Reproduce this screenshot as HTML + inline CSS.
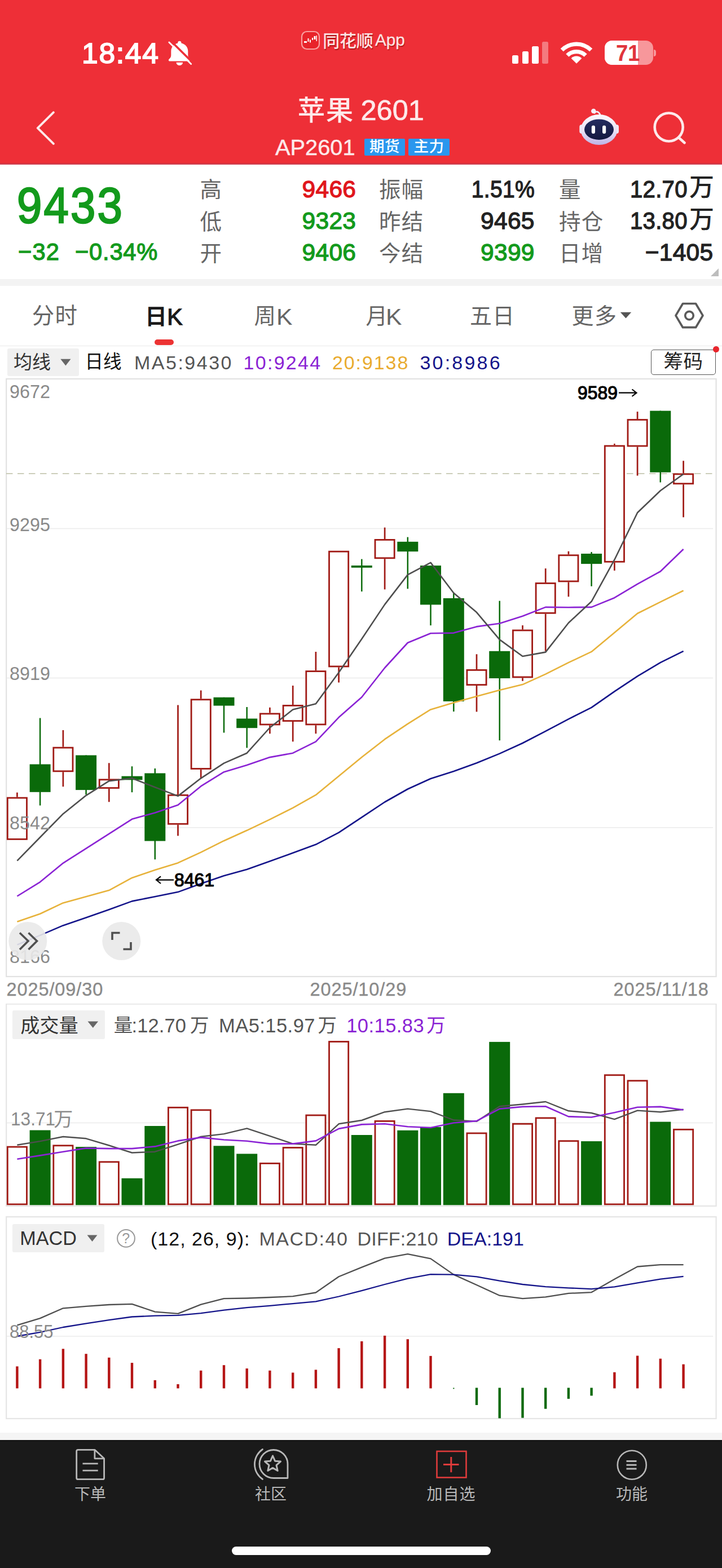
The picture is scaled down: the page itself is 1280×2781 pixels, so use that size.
<!DOCTYPE html>
<html lang="zh"><head><meta charset="utf-8"><title>苹果2601</title>
<style>
html,body{margin:0;padding:0;background:#fff;}
body{width:1280px;height:2781px;position:relative;overflow:hidden;font-family:"Liberation Sans",sans-serif;}
.c,.t,.r,.s{position:absolute;}
.c{line-height:0;}
.c svg{display:block;position:absolute;left:0;top:0;overflow:visible;}
.t{white-space:nowrap;line-height:1;}
.k{font-family:"Liberation Sans","Noto Sans CJK SC",sans-serif;font-weight:400;}
</style></head>
<body>
<div class="r" style="left:0px;top:0px;width:1280px;height:291.8px;background:#d04353;"></div>
<div class="r" style="left:0px;top:0px;width:1280px;height:290.3px;background:#d72c36;"></div>
<div class="r" style="left:0px;top:0px;width:1280px;height:288.8px;background:#ee2f37;"></div>
<div class="t" style="top:69.7518px;font-size:50.5px;color:#fff;font-weight:400;letter-spacing:1.7px;-webkit-text-stroke:1.8px #fff;left:144.5px;transform:scaleX(1.02);transform-origin:0 50%;">18:44</div>
<svg class="s" style="left:296px;top:70px;" width="50" height="52" viewBox="0 0 50 52"><g fill="#fff"><path d="M22.300 2.800C20.500 2.800 19.200 4.100 19.200 5.800V6.600C12.200 8.200 7.300 13.600 7.300 20.800V27.500C7.300 30 6.600 32 4.800 33.800L3.600 35.100C2.200 36.500 3 38.600 4.900 38.600H39.700C41.600 38.600 42.400 36.500 41 35.100L39.800 33.800C38 32 37.300 30 37.300 27.500V20.800C37.300 13.600 32.400 8.200 25.400 6.600V5.800C25.400 4.100 24.100 2.800 22.300 2.800Z"/><path d="M16.500 40.700a5.800 5.300 0 0 0 11.600 0z"/></g><path d="M6.500 2.300L45.400 40.800" stroke="#ee2f37" stroke-width="3.700"/><path d="M3.800 5L42.700 43.500" stroke="#fff" stroke-width="2.800" stroke-linecap="round"/></svg>
<svg class="s" style="left:533px;top:54px;" width="36" height="36" viewBox="0 0 36 36"><rect x="2" y="2" width="31" height="31" rx="9" fill="#e8232a" stroke="#f9a0a0" stroke-width="2.200"/><g fill="#fff"><rect x="6" y="19" width="5" height="3"/><rect x="12.500" y="14" width="2" height="6"/><rect x="16" y="16.500" width="2" height="5"/><rect x="20" y="13" width="2" height="4"/><rect x="23.500" y="10" width="3" height="6"/><rect x="27.500" y="9" width="1.500" height="10"/></g></svg>
<div class="t k" style="left:572.3px;top:58.3px;font-size:30px;color:#fde4e4;font-weight:500;letter-spacing:-0.3px;text-shadow:1px 1.5px 1px rgba(120,0,0,.55);">同花顺</div>
<div class="t" style="top:56.105px;font-size:30px;color:#fde4e4;font-weight:400;-webkit-text-stroke:0.3px #fde4e4;left:664.5px;transform:scaleX(0.99);transform-origin:0 50%;text-shadow:1px 1.5px 1px rgba(120,0,0,.55);">App</div>
<div class="r" style="left:908.3px;top:98px;width:10.8px;height:14.6px;background:#fff;border-radius:2.500px"></div>
<div class="r" style="left:925.9px;top:91px;width:11.2px;height:21.6px;background:#fff;border-radius:2.500px"></div>
<div class="r" style="left:943.4px;top:82.4px;width:11.2px;height:30.2px;background:#fff;border-radius:2.500px"></div>
<div class="r" style="left:961px;top:73.7px;width:10.8px;height:38.9px;background:rgba(255,255,255,.36);border-radius:2.500px"></div>
<svg class="s" style="left:991px;top:70px;" width="62" height="46" viewBox="0 0 62 46"><g fill="none" stroke="#fff" stroke-width="7.200"><path d="M5.200 18.800A36.500 36.500 0 0 1 56.800 18.800"/><path d="M14.800 28.200A23 23 0 0 1 47.200 28.200"/></g><path d="M31 42.800L21.600 33.400A13.300 13.300 0 0 1 40.400 33.400z" fill="#fff"/></svg>
<div class="r" style="left:1071.6px;top:72px;width:86.4px;height:43.3px;background:rgba(255,255,255,.5);border-radius:13px"></div>
<div class="r" style="left:1071.6px;top:72px;width:59px;height:43.3px;background:#fff;border-radius:13px 0 0 13px"></div>
<div class="r" style="left:1158.6px;top:87.5px;width:4px;height:12.6px;background:rgba(255,255,255,.5);border-radius:0 4px 4px 0"></div>
<div class="t" style="top:73.74px;font-size:40px;color:#e0353c;font-weight:700;letter-spacing:-0.3px;left:1091.5px;transform:scaleX(0.96);transform-origin:0 50%;">71</div>
<svg class="s" style="left:60px;top:192px;" width="44" height="70" viewBox="0 0 44 70"><path d="M34.800 7.300L6.800 35.200L34.800 62.800" fill="none" stroke="#fde9ea" stroke-width="4" stroke-linecap="round" stroke-linejoin="round"/></svg>
<div class="t k" style="left:527.8px;top:172.3px;font-size:48.5px;color:#fde9ea;font-weight:500;letter-spacing:1.5px;">苹果</div>
<div class="t" style="top:170.652px;font-size:50.5px;color:#fde9ea;font-weight:400;-webkit-text-stroke:0.7px #fde9ea;left:639.5px;">2601</div>
<div class="t" style="top:242.287px;font-size:39px;color:#fde9ea;font-weight:400;-webkit-text-stroke:0.5px #fde9ea;left:487.5px;transform:scaleX(1.02);transform-origin:0 50%;">AP2601</div>
<div class="r" style="left:645.8px;top:245.5px;width:72.2px;height:30px;background:#2a97ee;border-radius:2px"></div>
<div class="r" style="left:724.3px;top:245.5px;width:72.7px;height:30px;background:#2a97ee;border-radius:2px"></div>
<div class="t k" style="left:655px;top:247.3px;font-size:26.5px;color:#fff;font-weight:500;letter-spacing:0.5px;">期货</div>
<div class="t k" style="left:733.5px;top:247.3px;font-size:26.5px;color:#fff;font-weight:500;letter-spacing:0.5px;">主力</div>
<svg class="s" style="left:1020px;top:188px;" width="84" height="76" viewBox="0 0 84 76"><defs><linearGradient id="rb" x1="0" y1="0" x2="0" y2="1"><stop offset="0" stop-color="#fbf8fd"/><stop offset=".55" stop-color="#e9e1f5"/><stop offset="1" stop-color="#bdb3e6"/></linearGradient><linearGradient id="rf" x1="0" y1="0" x2="0" y2="1"><stop offset="0" stop-color="#252c60"/><stop offset="1" stop-color="#14183f"/></linearGradient></defs><path d="M34 12.500Q38.500 6.500 44 15" fill="none" stroke="#f3e9f5" stroke-width="2.600" stroke-linecap="round"/><circle cx="32.300" cy="9" r="4.300" fill="#f6eef8"/><rect x="7.300" y="33" width="8" height="16" rx="4" fill="#efe8f6"/><rect x="69" y="33" width="8" height="16" rx="4" fill="#efe8f6"/><ellipse cx="42" cy="42" rx="32.500" ry="27" fill="url(#rb)"/><ellipse cx="42" cy="41.700" rx="26" ry="18.300" fill="url(#rf)"/><rect x="28.800" y="34.500" width="6.200" height="14.500" rx="3.100" fill="#fff"/><rect x="48" y="34.500" width="6.200" height="14.500" rx="3.100" fill="#fff"/></svg>
<svg class="s" style="left:1154px;top:194px;" width="66" height="66" viewBox="0 0 66 66"><circle cx="31.700" cy="31.500" r="25" fill="none" stroke="#fde9ea" stroke-width="4.600"/><path d="M49.500 50.200L59.500 59.300" stroke="#fde9ea" stroke-width="4.600" stroke-linecap="round"/></svg>
<div class="t" style="top:320.585px;font-size:88.5px;color:#139a1c;font-weight:400;letter-spacing:3.6px;-webkit-text-stroke:2.6px #139a1c;left:30px;transform:scaleX(0.9);transform-origin:0 50%;">9433</div>
<div class="t" style="top:426.024px;font-size:42.5px;color:#139a1c;font-weight:400;letter-spacing:1.2px;-webkit-text-stroke:1.3px #139a1c;left:31.5px;transform:scaleX(0.98);transform-origin:0 50%;">−32</div>
<div class="t" style="top:426.024px;font-size:42.5px;color:#139a1c;font-weight:400;letter-spacing:0.8px;-webkit-text-stroke:1.3px #139a1c;left:133px;transform:scaleX(0.98);transform-origin:0 50%;">−0.34%</div>
<div class="t k" style="left:354.5px;top:318px;font-size:38.5px;color:#666;">高</div>
<div class="t k" style="left:354.5px;top:374.7px;font-size:38.5px;color:#666;">低</div>
<div class="t k" style="left:354.5px;top:430.8px;font-size:38.5px;color:#666;">开</div>
<div class="t" style="top:314.624px;font-size:42.5px;color:#e0161c;font-weight:400;letter-spacing:0.3px;-webkit-text-stroke:1.3px #e0161c;right:649px;text-align:right;margin-right:-0.3px;">9466</div>
<div class="t" style="top:371.324px;font-size:42.5px;color:#139a1c;font-weight:400;letter-spacing:0.3px;-webkit-text-stroke:1.3px #139a1c;right:649px;text-align:right;margin-right:-0.3px;">9323</div>
<div class="t" style="top:427.424px;font-size:42.5px;color:#139a1c;font-weight:400;letter-spacing:0.3px;-webkit-text-stroke:1.3px #139a1c;right:649px;text-align:right;margin-right:-0.3px;">9406</div>
<div class="t k" style="left:672px;top:318px;font-size:38.5px;color:#666;letter-spacing:1.2px;">振幅</div>
<div class="t k" style="left:672px;top:374.7px;font-size:38.5px;color:#666;letter-spacing:1.2px;">昨结</div>
<div class="t k" style="left:672px;top:430.8px;font-size:38.5px;color:#666;letter-spacing:1.2px;">今结</div>
<div class="t" style="top:314.624px;font-size:42.5px;color:#222;font-weight:400;letter-spacing:0.3px;-webkit-text-stroke:1.3px #222;right:332.7px;text-align:right;margin-right:-0.3px;transform:scaleX(0.92);transform-origin:100% 50%;">1.51%</div>
<div class="t" style="top:371.324px;font-size:42.5px;color:#222;font-weight:400;letter-spacing:0.3px;-webkit-text-stroke:1.3px #222;right:332.5px;text-align:right;margin-right:-0.3px;">9465</div>
<div class="t" style="top:427.424px;font-size:42.5px;color:#139a1c;font-weight:400;letter-spacing:0.3px;-webkit-text-stroke:1.3px #139a1c;right:332.5px;text-align:right;margin-right:-0.3px;">9399</div>
<div class="t k" style="left:991px;top:318px;font-size:38.5px;color:#666;">量</div>
<div class="t k" style="left:991px;top:374.7px;font-size:38.5px;color:#666;letter-spacing:1.2px;">持仓</div>
<div class="t k" style="left:991px;top:430.8px;font-size:38.5px;color:#666;letter-spacing:1.2px;">日增</div>
<div class="t" style="top:314.624px;font-size:42.5px;color:#222;font-weight:400;letter-spacing:0.3px;-webkit-text-stroke:1.3px #222;right:61.8px;text-align:right;margin-right:-0.3px;transform:scaleX(0.945);transform-origin:100% 50%;">12.70</div>
<div class="t k" style="left:1222px;top:311.3px;font-size:44px;color:#222;font-weight:500;">万</div>
<div class="t" style="top:371.324px;font-size:42.5px;color:#222;font-weight:400;letter-spacing:0.3px;-webkit-text-stroke:1.3px #222;right:61.8px;text-align:right;margin-right:-0.3px;transform:scaleX(0.945);transform-origin:100% 50%;">13.80</div>
<div class="t k" style="left:1222px;top:368px;font-size:44px;color:#222;font-weight:500;">万</div>
<div class="t" style="top:427.424px;font-size:42.5px;color:#222;font-weight:400;letter-spacing:0.3px;-webkit-text-stroke:1.3px #222;right:15.8px;text-align:right;margin-right:-0.3px;">−1405</div>
<svg class="s" style="left:1258px;top:474px;" width="18" height="18" viewBox="0 0 18 18"><path d="M16 2V16H2z" fill="#bdbdbd"/></svg>
<div class="r" style="left:0px;top:494.5px;width:1280px;height:12.5px;background:#f3f3f3;"></div>
<div class="t k" style="left:56.8px;top:541.3px;font-size:39.5px;color:#666;letter-spacing:1.2px;">分时</div>
<div class="t k" style="left:257px;top:541.8px;font-size:39px;color:#1a1a1a;font-weight:700;">日</div>
<div class="t" style="top:542.093px;font-size:41px;color:#1a1a1a;font-weight:400;-webkit-text-stroke:1.3px #1a1a1a;left:296.3px;">K</div>
<div class="t k" style="left:450.5px;top:541.5px;font-size:38.5px;color:#666;">周</div>
<div class="t" style="top:542.093px;font-size:41px;color:#666;font-weight:400;left:489.5px;transform:scaleX(1.04);transform-origin:0 50%;">K</div>
<div class="t k" style="left:648.5px;top:541.5px;font-size:38.5px;color:#666;">月</div>
<div class="t" style="top:542.093px;font-size:41px;color:#666;font-weight:400;left:684px;transform:scaleX(1.04);transform-origin:0 50%;">K</div>
<div class="t k" style="left:833px;top:541.3px;font-size:39px;color:#666;letter-spacing:1px;">五日</div>
<div class="t k" style="left:1013.5px;top:541.3px;font-size:39px;color:#666;letter-spacing:1.5px;">更多</div>
<svg class="s" style="left:1098px;top:552px;" width="24" height="14" viewBox="0 0 24 14"><path d="M1.800 1.700H21.200L11.500 12.500z" fill="#555"/></svg>
<svg class="s" style="left:1194px;top:534px;" width="56" height="52" viewBox="0 0 56 52"><path d="M16.500 4.500H39.500L52 25.600L39.500 46.700H16.500L4 25.600z" fill="none" stroke="#5a5a5a" stroke-width="3.700" stroke-linejoin="round"/><circle cx="28" cy="25.600" r="7.300" fill="none" stroke="#5a5a5a" stroke-width="3.700"/></svg>
<div class="r" style="left:273.6px;top:602.3px;width:34px;height:9.7px;background:#ec3333;border-radius:5px"></div>
<div class="r" style="left:0px;top:612.5px;width:1280px;height:1.5px;background:#e9e9e9;"></div>
<div class="r" style="left:13px;top:618.2px;width:126.6px;height:48.6px;background:#f0f0f0;border-radius:3px"></div>
<div class="t k" style="left:24px;top:625.5px;font-size:33px;color:#333;">均线</div>
<svg class="s" style="left:106px;top:635px;" width="22" height="15" viewBox="0 0 22 15"><path d="M1.300 1.800H19.500L10.400 13.600z" fill="#666"/></svg>
<div class="t k" style="left:150.5px;top:626px;font-size:32.5px;color:#111;">日线</div>
<div class="t" style="top:626.019px;font-size:34px;color:#555;font-weight:400;letter-spacing:2.5px;left:238px;">MA5:9430</div>
<div class="t" style="top:626.019px;font-size:34px;color:#8a22d4;font-weight:400;letter-spacing:2.3px;left:431.5px;">10:9244</div>
<div class="t" style="top:626.019px;font-size:34px;color:#e9ab2f;font-weight:400;letter-spacing:1.9px;left:589px;">20:9138</div>
<div class="t" style="top:626.019px;font-size:34px;color:#14148a;font-weight:400;letter-spacing:3.2px;left:744.5px;">30:8986</div>
<div class="r" style="left:1154px;top:620.2px;width:112.5px;height:42.5px;background:#fff;border:1.500px solid #555;border-radius:5px"></div>
<div class="t k" style="left:1176.5px;top:624.3px;font-size:34.5px;color:#222;letter-spacing:0.5px;">筹码</div>
<div class="r" style="left:1264px;top:613.7px;width:11px;height:11px;background:#e8262d;border-radius:50%"></div>
<svg class="s" style="left:0px;top:0px;z-index:0" width="1280" height="1740" viewBox="0 0 1280 1740"><rect x="11.200" y="672" width="1258.400" height="1060" fill="#fff" stroke="#e2e2e2" stroke-width="2.200"/><path d="M12 937.5H1264" stroke="#ebebeb" stroke-width="1.600"/><path d="M12 1202.5H1264" stroke="#ebebeb" stroke-width="1.600"/><path d="M12 1467.7H1264" stroke="#ebebeb" stroke-width="1.600"/><path d="M11 840H1269" stroke="#bcbfa4" stroke-width="1.700" stroke-dasharray="11.500 8.500"/><path d="M30.4 1405.6V1413.7" stroke="#a01a15" stroke-width="2.700"/><rect x="13.3" y="1415.1" width="34.2" height="73.3" fill="#fff" stroke="#a01a15" stroke-width="2.8"/><path d="M71.1 1273.5V1428.6" stroke="#0a6a0a" stroke-width="2.500"/><rect x="52.6" y="1355.5" width="37.0" height="49.3" fill="#0a6a0a"/><path d="M111.9 1295.0V1324.7" stroke="#a01a15" stroke-width="2.700"/><path d="M111.9 1369.2V1395.2" stroke="#a01a15" stroke-width="2.700"/><rect x="94.8" y="1326.1" width="34.2" height="41.7" fill="#fff" stroke="#a01a15" stroke-width="2.8"/><path d="M152.6 1339.5V1409.3" stroke="#0a6a0a" stroke-width="2.500"/><rect x="134.1" y="1339.5" width="37.0" height="61.6" fill="#0a6a0a"/><path d="M193.3 1353.3V1381.4" stroke="#a01a15" stroke-width="2.700"/><path d="M193.3 1398.9V1422.3" stroke="#a01a15" stroke-width="2.700"/><rect x="176.2" y="1382.8" width="34.2" height="14.7" fill="#fff" stroke="#a01a15" stroke-width="2.8"/><path d="M234.0 1359.2V1405.2" stroke="#0a6a0a" stroke-width="2.500"/><rect x="215.5" y="1376.6" width="37.0" height="6.7" fill="#0a6a0a"/><path d="M274.8 1362.9V1524.3" stroke="#0a6a0a" stroke-width="2.500"/><rect x="256.3" y="1371.4" width="37.0" height="120.2" fill="#0a6a0a"/><path d="M315.5 1250.5V1408.9" stroke="#a01a15" stroke-width="2.700"/><path d="M315.5 1462.7V1482.4" stroke="#a01a15" stroke-width="2.700"/><rect x="298.4" y="1410.3" width="34.2" height="51.0" fill="#fff" stroke="#a01a15" stroke-width="2.8"/><path d="M356.2 1224.5V1239.4" stroke="#a01a15" stroke-width="2.700"/><path d="M356.2 1364.8V1380.3" stroke="#a01a15" stroke-width="2.700"/><rect x="339.1" y="1240.8" width="34.2" height="122.6" fill="#fff" stroke="#a01a15" stroke-width="2.8"/><path d="M397.0 1236.8V1299.5" stroke="#0a6a0a" stroke-width="2.500"/><rect x="378.5" y="1236.8" width="37.0" height="14.8" fill="#0a6a0a"/><path d="M437.7 1254.0V1326.4" stroke="#0a6a0a" stroke-width="2.500"/><rect x="419.2" y="1274.5" width="37.0" height="16.7" fill="#0a6a0a"/><path d="M478.4 1254.8V1264.5" stroke="#a01a15" stroke-width="2.700"/><path d="M478.4 1286.4V1301.2" stroke="#a01a15" stroke-width="2.700"/><rect x="461.3" y="1265.9" width="34.2" height="19.1" fill="#fff" stroke="#a01a15" stroke-width="2.8"/><path d="M519.2 1216.0V1250.0" stroke="#a01a15" stroke-width="2.700"/><path d="M519.2 1280.0V1315.3" stroke="#a01a15" stroke-width="2.700"/><rect x="502.1" y="1251.4" width="34.2" height="27.2" fill="#fff" stroke="#a01a15" stroke-width="2.8"/><path d="M559.9 1156.0V1189.2" stroke="#a01a15" stroke-width="2.700"/><path d="M559.9 1286.3V1301.2" stroke="#a01a15" stroke-width="2.700"/><rect x="542.8" y="1190.6" width="34.2" height="94.3" fill="#fff" stroke="#a01a15" stroke-width="2.8"/><path d="M600.6 1183.4V1210.5" stroke="#a01a15" stroke-width="2.700"/><rect x="583.5" y="978.2" width="34.2" height="203.8" fill="#fff" stroke="#a01a15" stroke-width="2.8"/><path d="M641.3 991.6V1049.1" stroke="#0a6a0a" stroke-width="2.500"/><rect x="622.8" y="1003.0" width="37.0" height="3.8" fill="#0a6a0a"/><path d="M682.1 935.6V956.0" stroke="#a01a15" stroke-width="2.700"/><path d="M682.1 991.2V1045.4" stroke="#a01a15" stroke-width="2.700"/><rect x="665.0" y="957.4" width="34.2" height="32.4" fill="#fff" stroke="#a01a15" stroke-width="2.8"/><path d="M722.8 952.6V1044.3" stroke="#0a6a0a" stroke-width="2.500"/><rect x="704.3" y="960.8" width="37.0" height="17.4" fill="#0a6a0a"/><path d="M763.5 1003.1V1109.2" stroke="#0a6a0a" stroke-width="2.500"/><rect x="745.0" y="1003.1" width="37.0" height="69.4" fill="#0a6a0a"/><path d="M804.3 1051.7V1262.0" stroke="#0a6a0a" stroke-width="2.500"/><rect x="785.8" y="1061.0" width="37.0" height="182.9" fill="#0a6a0a"/><path d="M845.0 1160.3V1187.0" stroke="#a01a15" stroke-width="2.700"/><path d="M845.0 1216.0V1262.4" stroke="#a01a15" stroke-width="2.700"/><rect x="827.9" y="1188.4" width="34.2" height="26.2" fill="#fff" stroke="#a01a15" stroke-width="2.8"/><path d="M885.7 1065.7V1313.2" stroke="#0a6a0a" stroke-width="2.500"/><rect x="867.2" y="1154.8" width="37.0" height="48.2" fill="#0a6a0a"/><path d="M926.5 1109.1V1116.6" stroke="#a01a15" stroke-width="2.700"/><path d="M926.5 1202.3V1207.8" stroke="#a01a15" stroke-width="2.700"/><rect x="909.4" y="1118.0" width="34.2" height="82.9" fill="#fff" stroke="#a01a15" stroke-width="2.8"/><path d="M967.2 1008.2V1033.1" stroke="#a01a15" stroke-width="2.700"/><path d="M967.2 1088.7V1154.8" stroke="#a01a15" stroke-width="2.700"/><rect x="950.1" y="1034.5" width="34.2" height="52.8" fill="#fff" stroke="#a01a15" stroke-width="2.8"/><path d="M1007.9 977.8V983.4" stroke="#a01a15" stroke-width="2.700"/><path d="M1007.9 1032.4V1058.3" stroke="#a01a15" stroke-width="2.700"/><rect x="990.8" y="984.8" width="34.2" height="46.2" fill="#fff" stroke="#a01a15" stroke-width="2.8"/><path d="M1048.6 979.0V1039.8" stroke="#0a6a0a" stroke-width="2.500"/><rect x="1030.1" y="982.0" width="37.0" height="18.1" fill="#0a6a0a"/><path d="M1089.4 786.9V789.5" stroke="#a01a15" stroke-width="2.700"/><path d="M1089.4 997.7V1012.0" stroke="#a01a15" stroke-width="2.700"/><rect x="1072.3" y="790.9" width="34.2" height="205.4" fill="#fff" stroke="#a01a15" stroke-width="2.8"/><path d="M1130.1 730.1V743.1" stroke="#a01a15" stroke-width="2.700"/><path d="M1130.1 792.4V843.6" stroke="#a01a15" stroke-width="2.700"/><rect x="1113.0" y="744.5" width="34.2" height="46.5" fill="#fff" stroke="#a01a15" stroke-width="2.8"/><path d="M1170.8 728.6V855.5" stroke="#0a6a0a" stroke-width="2.500"/><rect x="1152.3" y="728.6" width="37.0" height="109.1" fill="#0a6a0a"/><path d="M1211.6 817.3V839.5" stroke="#a01a15" stroke-width="2.700"/><path d="M1211.6 859.2V917.4" stroke="#a01a15" stroke-width="2.700"/><rect x="1194.5" y="840.9" width="34.2" height="16.9" fill="#fff" stroke="#a01a15" stroke-width="2.8"/><polyline points="30.4,1675.6 71.1,1658.9 111.9,1641.4 152.6,1627.4 193.3,1613.3 234.0,1598.4 274.8,1590.3 315.5,1582.1 356.2,1567.3 397.0,1553.2 437.7,1542.0 478.4,1527.5 519.2,1512.7 559.9,1497.8 600.6,1476.7 641.3,1449.6 682.1,1422.5 722.8,1399.5 763.5,1381.0 804.3,1368.0 845.0,1353.2 885.7,1336.6 926.5,1318.0 967.2,1296.9 1007.9,1275.3 1048.6,1254.9 1089.4,1226.4 1130.1,1199.3 1170.8,1175.2 1211.6,1154.8" fill="none" stroke="#14148a" stroke-width="2.6" stroke-linejoin="round"/><polyline points="30.4,1634.8 71.1,1620.7 111.9,1601.4 152.6,1590.3 193.3,1579.1 234.0,1556.9 274.8,1543.1 315.5,1530.4 356.2,1511.6 397.0,1491.2 437.7,1472.8 478.4,1453.3 519.2,1432.9 559.9,1409.9 600.6,1376.5 641.3,1343.1 682.1,1311.2 722.8,1283.8 763.5,1258.4 804.3,1246.2 845.0,1234.9 885.7,1224.1 926.5,1214.1 967.2,1195.6 1007.9,1175.2 1048.6,1155.9 1089.4,1122.1 1130.1,1088.0 1170.8,1067.6 1211.6,1047.5" fill="none" stroke="#e7b23a" stroke-width="2.6" stroke-linejoin="round"/><polyline points="30.4,1589.5 71.1,1564.3 111.9,1530.8 152.6,1504.8 193.3,1478.8 234.0,1452.8 274.8,1441.5 315.5,1427.8 356.2,1394.4 397.0,1369.2 437.7,1357.0 478.4,1343.1 519.2,1335.7 559.9,1315.3 600.6,1272.3 641.3,1236.5 682.1,1184.5 722.8,1140.0 763.5,1123.3 804.3,1122.6 845.0,1111.4 885.7,1105.8 926.5,1092.8 967.2,1076.9 1007.9,1077.2 1048.6,1076.9 1089.4,1060.2 1130.1,1035.8 1170.8,1013.5 1211.6,974.0" fill="none" stroke="#8a22d4" stroke-width="2.6" stroke-linejoin="round"/><polyline points="30.4,1526.6 71.1,1485.0 111.9,1443.4 152.6,1410.8 193.3,1385.2 234.0,1380.3 274.8,1396.3 315.5,1411.9 356.2,1380.3 397.0,1353.6 437.7,1335.7 478.4,1290.5 519.2,1258.6 559.9,1248.2 600.6,1192.7 641.3,1133.3 682.1,1072.1 722.8,1019.4 763.5,997.9 804.3,1051.7 845.0,1086.1 885.7,1134.4 926.5,1164.0 967.2,1156.6 1007.9,1104.7 1048.6,1066.8 1089.4,992.7 1130.1,909.3 1170.8,870.3 1211.6,840.7" fill="none" stroke="#4e4e4e" stroke-width="2.6" stroke-linejoin="round"/><path d="M1097 696.700H1128M1120.500 690.500L1128.500 696.700L1120.500 703" fill="none" stroke="#000" stroke-width="2.200"/><path d="M308 1560.600H277.500M285 1554.300L277 1560.600L285 1567" fill="none" stroke="#000" stroke-width="2.200"/></svg>
<div class="t" style="top:677.219px;font-size:34px;color:#8a8a8a;font-weight:400;left:16.5px;transform:scaleX(0.95);transform-origin:0 50%;">9672</div>
<div class="t" style="top:913.219px;font-size:34px;color:#8a8a8a;font-weight:400;left:16.5px;transform:scaleX(0.95);transform-origin:0 50%;">9295</div>
<div class="t" style="top:1177.22px;font-size:34px;color:#8a8a8a;font-weight:400;left:16.5px;transform:scaleX(0.95);transform-origin:0 50%;">8919</div>
<div class="t" style="top:1441.72px;font-size:34px;color:#8a8a8a;font-weight:400;left:16.5px;transform:scaleX(0.95);transform-origin:0 50%;">8542</div>
<div class="t" style="top:1678.72px;font-size:34px;color:#8a8a8a;font-weight:400;left:16.5px;transform:scaleX(0.95);transform-origin:0 50%;">8166</div>
<div class="t" style="top:681.489px;font-size:32.5px;color:#000;font-weight:400;-webkit-text-stroke:1.2px #000;left:1023.5px;transform:scaleX(0.98);transform-origin:0 50%;">9589</div>
<div class="t" style="top:1545.29px;font-size:32.5px;color:#000;font-weight:400;-webkit-text-stroke:1.2px #000;left:309px;transform:scaleX(0.98);transform-origin:0 50%;">8461</div>
<svg class="s" style="left:14px;top:1634px;" width="72" height="72" viewBox="0 0 72 72"><circle cx="35.300" cy="35" r="34" fill="#e9e9e9" fill-opacity=".9"/><path d="M21 20.500L36 35L21 50M36.500 20.500L51.500 35L36.500 50" fill="none" stroke="#505050" stroke-width="3.600"/></svg>
<svg class="s" style="left:180px;top:1634px;" width="72" height="72" viewBox="0 0 72 72"><circle cx="35.300" cy="35" r="34" fill="#e9e9e9" fill-opacity=".9"/><path d="M19 33V20.500H32.500M38.500 49.500H52V37" fill="none" stroke="#505050" stroke-width="3.600"/></svg>
<div class="t" style="top:1739.49px;font-size:32.5px;color:#8a8a8a;font-weight:400;letter-spacing:0.9px;-webkit-text-stroke:0.4px #8a8a8a;left:11.5px;">2025/09/30</div>
<div class="t" style="top:1739.49px;font-size:32.5px;color:#8a8a8a;font-weight:400;letter-spacing:0.9px;-webkit-text-stroke:0.4px #8a8a8a;left:549.5px;">2025/10/29</div>
<div class="t" style="top:1739.49px;font-size:32.5px;color:#8a8a8a;font-weight:400;letter-spacing:0.9px;-webkit-text-stroke:0.4px #8a8a8a;left:1087.5px;">2025/11/18</div>
<svg class="s" style="left:0px;top:1780px;" width="1280" height="365" viewBox="0 0 1280 365"><rect x="11.200" y="0.5" width="1258.400" height="358.5" fill="#fff" stroke="#e5e5e5" stroke-width="2.200"/><path d="M12 211.5H1264" stroke="#ebebeb" stroke-width="1.600"/><rect x="13.3" y="254.1" width="34.2" height="101.8" fill="#fff" stroke="#a01a15" stroke-width="2.8"/><rect x="52.6" y="224.5" width="37.0" height="132.8" fill="#0a6a0a"/><rect x="94.8" y="251.8" width="34.2" height="104.1" fill="#fff" stroke="#a01a15" stroke-width="2.8"/><rect x="134.1" y="254.1" width="37.0" height="103.2" fill="#0a6a0a"/><rect x="176.2" y="280.8" width="34.2" height="75.1" fill="#fff" stroke="#a01a15" stroke-width="2.8"/><rect x="215.5" y="309.8" width="37.0" height="47.5" fill="#0a6a0a"/><rect x="256.3" y="217.0" width="37.0" height="140.3" fill="#0a6a0a"/><rect x="298.4" y="184.3" width="34.2" height="171.6" fill="#fff" stroke="#a01a15" stroke-width="2.8"/><rect x="339.1" y="188.8" width="34.2" height="167.1" fill="#fff" stroke="#a01a15" stroke-width="2.8"/><rect x="378.5" y="252.3" width="37.0" height="105.0" fill="#0a6a0a"/><rect x="419.2" y="266.4" width="37.0" height="90.9" fill="#0a6a0a"/><rect x="461.3" y="283.4" width="34.2" height="72.5" fill="#fff" stroke="#a01a15" stroke-width="2.8"/><rect x="502.1" y="255.5" width="34.2" height="100.4" fill="#fff" stroke="#a01a15" stroke-width="2.8"/><rect x="542.8" y="198.0" width="34.2" height="157.9" fill="#fff" stroke="#a01a15" stroke-width="2.8"/><rect x="583.5" y="67.5" width="34.2" height="288.4" fill="#fff" stroke="#a01a15" stroke-width="2.8"/><rect x="622.8" y="233.0" width="37.0" height="124.3" fill="#0a6a0a"/><rect x="665.0" y="208.4" width="34.2" height="147.5" fill="#fff" stroke="#a01a15" stroke-width="2.8"/><rect x="704.3" y="224.8" width="37.0" height="132.5" fill="#0a6a0a"/><rect x="745.0" y="218.9" width="37.0" height="138.4" fill="#0a6a0a"/><rect x="785.8" y="158.8" width="37.0" height="198.5" fill="#0a6a0a"/><rect x="827.9" y="229.9" width="34.2" height="126.0" fill="#fff" stroke="#a01a15" stroke-width="2.8"/><rect x="867.2" y="67.9" width="37.0" height="289.4" fill="#0a6a0a"/><rect x="909.4" y="213.3" width="34.2" height="142.6" fill="#fff" stroke="#a01a15" stroke-width="2.8"/><rect x="950.1" y="202.9" width="34.2" height="153.0" fill="#fff" stroke="#a01a15" stroke-width="2.8"/><rect x="990.8" y="243.7" width="34.2" height="112.2" fill="#fff" stroke="#a01a15" stroke-width="2.8"/><rect x="1030.1" y="244.1" width="37.0" height="113.2" fill="#0a6a0a"/><rect x="1072.3" y="126.8" width="34.2" height="229.1" fill="#fff" stroke="#a01a15" stroke-width="2.8"/><rect x="1113.0" y="136.8" width="34.2" height="219.1" fill="#fff" stroke="#a01a15" stroke-width="2.8"/><rect x="1152.3" y="209.6" width="37.0" height="147.7" fill="#0a6a0a"/><rect x="1194.5" y="223.3" width="34.2" height="132.6" fill="#fff" stroke="#a01a15" stroke-width="2.8"/><polyline points="30.4,250.8 71.1,244.1 111.9,236.0 152.6,239.3 193.3,251.5 234.0,264.5 274.8,262.7 315.5,249.7 356.2,236.0 397.0,231.1 437.7,221.4 478.4,234.9 519.2,248.6 559.9,250.8 600.6,213.3 641.3,207.0 682.1,192.2 722.8,186.6 763.5,191.1 804.3,206.5 845.0,208.9 885.7,182.2 926.5,178.5 967.2,174.0 1007.9,190.3 1048.6,194.0 1089.4,205.2 1130.1,189.6 1170.8,192.2 1211.6,187.7" fill="none" stroke="#4e4e4e" stroke-width="2.4" stroke-linejoin="round"/><polyline points="30.4,275.7 71.1,269.4 111.9,262.7 152.6,256.4 193.3,257.1 234.0,257.1 274.8,253.4 315.5,243.4 356.2,237.4 397.0,241.5 437.7,243.8 478.4,248.6 519.2,248.6 559.9,243.4 600.6,221.9 641.3,214.4 682.1,213.3 722.8,218.2 763.5,220.0 804.3,211.5 845.0,208.1 885.7,186.6 926.5,182.9 967.2,182.2 1007.9,200.4 1048.6,201.5 1089.4,193.3 1130.1,183.7 1170.8,182.9 1211.6,188.5" fill="none" stroke="#8a22d4" stroke-width="2.6" stroke-linejoin="round"/></svg>
<div class="r" style="left:22.1px;top:1792.2px;width:164px;height:50.5px;background:#f0f0f0;border-radius:3px"></div>
<div class="t k" style="left:36.3px;top:1802px;font-size:34px;color:#333;letter-spacing:0.2px;">成交量</div>
<svg class="s" style="left:154px;top:1810px;" width="22" height="15" viewBox="0 0 22 15"><path d="M1.500 1.500H20.100L10.800 13z" fill="#666"/></svg>
<div class="t k" style="left:201.8px;top:1802px;font-size:33.5px;color:#555;">量</div>
<div class="t" style="top:1802.3px;font-size:34.5px;color:#555;font-weight:400;letter-spacing:0.1px;left:233.5px;">:12.70</div>
<div class="t k" style="left:337px;top:1802px;font-size:33.5px;color:#555;">万</div>
<div class="t" style="top:1802.3px;font-size:34.5px;color:#555;font-weight:400;letter-spacing:0.45px;left:388px;">MA5:15.97</div>
<div class="t k" style="left:563.5px;top:1802px;font-size:33.5px;color:#555;">万</div>
<div class="t" style="top:1802.3px;font-size:34.5px;color:#8a22d4;font-weight:400;letter-spacing:0.45px;left:614.2px;">10:15.83</div>
<div class="t k" style="left:756.2px;top:1802px;font-size:33.5px;color:#8a22d4;">万</div>
<div class="t" style="top:1967.22px;font-size:34px;color:#8a8a8a;font-weight:400;left:19px;transform:scaleX(0.93);transform-origin:0 50%;">13.71</div>
<div class="t k" style="left:95.3px;top:1967.8px;font-size:34px;color:#8a8a8a;">万</div>
<svg class="s" style="left:0px;top:2150px;" width="1280" height="372" viewBox="0 0 1280 372"><rect x="11.200" y="8.2" width="1258.400" height="357.8" fill="#fff" stroke="#e5e5e5" stroke-width="2.200"/><path d="M12 220H1264" stroke="#ebebeb" stroke-width="1.600"/><rect x="28.2" y="273.4" width="4.400" height="39.0" fill="#b51515"/><rect x="68.9" y="260.8" width="4.400" height="51.6" fill="#b51515"/><rect x="109.7" y="242.3" width="4.400" height="70.1" fill="#b51515"/><rect x="150.4" y="251.2" width="4.400" height="61.2" fill="#b51515"/><rect x="191.1" y="257.8" width="4.400" height="54.6" fill="#b51515"/><rect x="231.8" y="267.1" width="4.400" height="45.3" fill="#b51515"/><rect x="272.6" y="297.9" width="4.400" height="14.5" fill="#b51515"/><rect x="313.3" y="305.0" width="4.400" height="7.4" fill="#b51515"/><rect x="354.0" y="280.8" width="4.400" height="31.6" fill="#b51515"/><rect x="394.8" y="271.2" width="4.400" height="41.2" fill="#b51515"/><rect x="435.5" y="277.1" width="4.400" height="35.3" fill="#b51515"/><rect x="476.2" y="280.8" width="4.400" height="31.6" fill="#b51515"/><rect x="517.0" y="284.5" width="4.400" height="27.9" fill="#b51515"/><rect x="557.7" y="279.4" width="4.400" height="33.0" fill="#b51515"/><rect x="598.4" y="241.1" width="4.400" height="71.3" fill="#b51515"/><rect x="639.1" y="228.9" width="4.400" height="83.5" fill="#b51515"/><rect x="679.9" y="218.9" width="4.400" height="93.5" fill="#b51515"/><rect x="720.6" y="225.2" width="4.400" height="87.2" fill="#b51515"/><rect x="761.3" y="254.9" width="4.400" height="57.5" fill="#b51515"/><rect x="803.2" y="311.5" width="2.200" height="1.800" fill="#0a6a0a"/><rect x="842.8" y="311.4" width="4.400" height="30.6" fill="#0a6a0a"/><rect x="883.5" y="311.4" width="4.400" height="54.0" fill="#0a6a0a"/><rect x="924.3" y="311.4" width="4.400" height="53.3" fill="#0a6a0a"/><rect x="965.0" y="311.4" width="4.400" height="37.3" fill="#0a6a0a"/><rect x="1005.7" y="311.4" width="4.400" height="19.5" fill="#0a6a0a"/><rect x="1046.4" y="311.4" width="4.400" height="14.0" fill="#0a6a0a"/><rect x="1087.2" y="283.8" width="4.400" height="28.6" fill="#b51515"/><rect x="1127.9" y="254.5" width="4.400" height="57.9" fill="#b51515"/><rect x="1168.6" y="259.7" width="4.400" height="52.7" fill="#b51515"/><rect x="1209.4" y="269.7" width="4.400" height="42.7" fill="#b51515"/><polyline points="30.4,200.3 71.1,188.1 111.9,170.3 152.6,166.9 193.3,164.0 234.0,162.9 274.8,176.6 315.5,179.9 356.2,163.6 397.0,153.2 437.7,152.5 478.4,151.0 519.2,149.1 559.9,142.5 600.6,114.3 641.3,97.6 682.1,81.6 722.8,74.2 763.5,82.4 804.3,110.6 845.0,129.0 885.7,147.7 926.5,153.2 967.2,150.3 1007.9,143.9 1048.6,142.1 1089.4,118.7 1130.1,96.5 1170.8,93.1 1211.6,93.1" fill="none" stroke="#4e4e4e" stroke-width="2.3" stroke-linejoin="round"/><polyline points="30.4,220.0 71.1,212.9 111.9,204.0 152.6,197.4 193.3,191.1 234.0,185.5 274.8,183.6 315.5,182.9 356.2,179.2 397.0,173.6 437.7,169.2 478.4,165.8 519.2,162.1 559.9,158.4 600.6,149.5 641.3,139.1 682.1,128.0 722.8,117.6 763.5,110.2 804.3,110.6 845.0,114.4 885.7,121.7 926.5,128.0 967.2,132.1 1007.9,134.3 1048.6,136.2 1089.4,132.4 1130.1,125.4 1170.8,118.7 1211.6,113.9" fill="none" stroke="#14148a" stroke-width="2.3" stroke-linejoin="round"/></svg>
<div class="r" style="left:22.1px;top:2171.3px;width:162.7px;height:49.4px;background:#f0f0f0;border-radius:3px"></div>
<div class="t" style="top:2179.25px;font-size:34.2px;color:#333;font-weight:400;left:35.3px;">MACD</div>
<svg class="s" style="left:153px;top:2188.5px;" width="22" height="15" viewBox="0 0 22 15"><path d="M1.500 1.500H19.500L10.500 13z" fill="#666"/></svg>
<svg class="s" style="left:204px;top:2176px;" width="40" height="40" viewBox="0 0 40 40"><circle cx="19.500" cy="20.400" r="15.400" fill="none" stroke="#999" stroke-width="2"/></svg>
<div class="t" style="top:2183.84px;font-size:25px;color:#999;font-weight:400;left:216.3px;">?</div>
<div class="t" style="top:2179.82px;font-size:34px;color:#111;font-weight:400;letter-spacing:1px;left:267px;">(12, 26, 9):</div>
<div class="t" style="top:2179.82px;font-size:34px;color:#555;font-weight:400;letter-spacing:1.5px;left:459.5px;">MACD:40</div>
<div class="t" style="top:2179.82px;font-size:34px;color:#555;font-weight:400;letter-spacing:0.2px;left:633.5px;">DIFF:210</div>
<div class="t" style="top:2179.82px;font-size:34px;color:#14148a;font-weight:400;left:792.8px;">DEA:191</div>
<div class="t" style="top:2344.22px;font-size:34px;color:#8a8a8a;font-weight:400;left:16.5px;transform:scaleX(0.91);transform-origin:0 50%;">88.55</div>
<div class="r" style="left:0px;top:2541px;width:1280px;height:14px;background:#f5f5f5;"></div>
<div class="r" style="left:0px;top:2554px;width:1280px;height:227px;background:#1a1a1a;"></div>
<div class="r" style="left:0px;top:2554px;width:1280px;height:2px;background:#111;"></div>
<svg class="s" style="left:130px;top:2564px;" width="60" height="66" viewBox="0 0 60 66"><path d="M8.500 7.300H37.900L54.600 22.800V57.200Q54.600 59.700 52.100 59.700H8.200Q5.700 59.700 5.700 57.200V9.800Q5.700 7.300 8.500 7.300z" fill="none" stroke="#b8b8b8" stroke-width="2.800" stroke-linejoin="round"/><path d="M37.900 7.800V22.800H54.200" fill="none" stroke="#b8b8b8" stroke-width="2.800" stroke-linejoin="round"/><path d="M16.500 31.800H43.700M16.500 44.200H43.700" stroke="#b8b8b8" stroke-width="2.800"/></svg>
<div class="t k" style="left:132px;top:2636.5px;font-size:28px;color:#b8b8b8;">下单</div>
<svg class="s" style="left:446px;top:2564px;" width="70" height="66" viewBox="0 0 70 66"><path d="M39 7.500A25 25 0 0 1 64 32.500V57.500H39A25 25 0 0 1 39 7.500z" fill="none" stroke="#b8b8b8" stroke-width="2.800" stroke-linejoin="round"/><path d="M19.500 6.500A32 32 0 0 0 19.500 59.500" fill="none" stroke="#b8b8b8" stroke-width="2.800" stroke-linecap="round"/><path d="M37.500 18L41.500 27.200L51.500 28.100L44 34.700L46.200 44.500L37.500 39.400L28.800 44.500L31 34.700L23.500 28.100L33.500 27.200z" fill="none" stroke="#b8b8b8" stroke-width="3" stroke-linejoin="round"/></svg>
<div class="t k" style="left:452px;top:2636.5px;font-size:28px;color:#b8b8b8;">社区</div>
<svg class="s" style="left:768px;top:2568px;" width="64" height="58" viewBox="0 0 64 58"><rect x="6.500" y="6" width="52" height="46.500" fill="none" stroke="#df3b3b" stroke-width="2.600"/><path d="M18 29.600H45.500M31.800 16V43.300" stroke="#df3b3b" stroke-width="3"/></svg>
<div class="t k" style="left:756.5px;top:2636.5px;font-size:28px;color:#b8b8b8;letter-spacing:1px;">加自选</div>
<svg class="s" style="left:1090px;top:2568px;" width="60" height="60" viewBox="0 0 60 60"><circle cx="30.300" cy="30.200" r="25.500" fill="none" stroke="#b8b8b8" stroke-width="2.600"/><path d="M20.500 23.500H38.500M20.500 30.300H38.500M20.500 37.100H38.500" stroke="#b8b8b8" stroke-width="3"/></svg>
<div class="t k" style="left:1092px;top:2636.5px;font-size:28px;color:#b8b8b8;">功能</div>
<div class="r" style="left:411px;top:2742.8px;width:458.5px;height:15.2px;background:#fff;border-radius:8px"></div>
</body></html>
